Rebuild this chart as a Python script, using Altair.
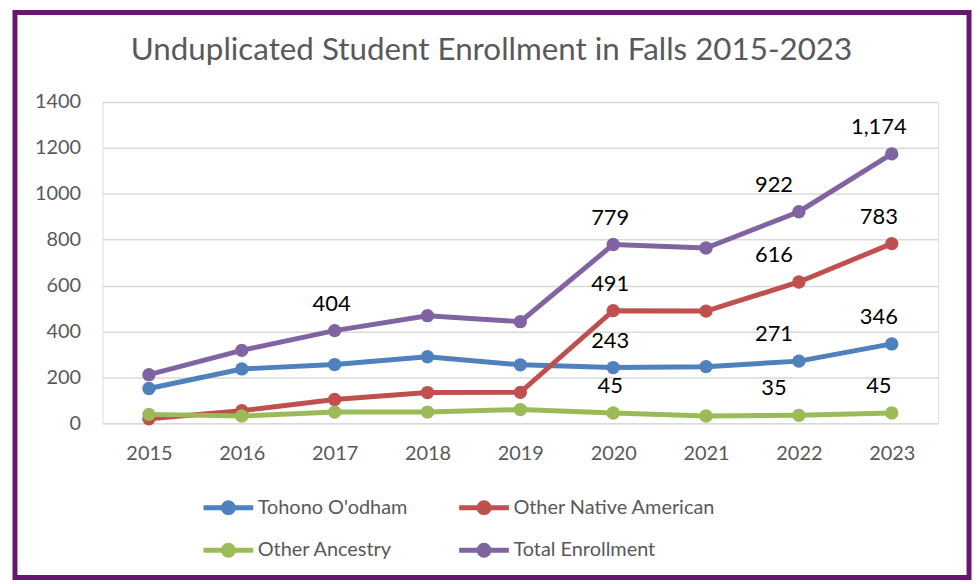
import altair as alt
import pandas as pd

title_text = "Unduplicated Student Enrollment in Falls 2015-2023"
years = ["2015", "2016", "2017", "2018", "2019", "2020", "2021", "2022", "2023"]
series_names = ["Tohono O'odham", "Other Native American", "Other Ancestry", "Total Enrollment"]
tohono = [152, 237, 256, 290, 255, 243, 247, 271, 346]
other_native = [20, 55, 104, 134, 135, 491, 489, 616, 783]
other_ancestry = [39, 32, 49, 49, 60, 45, 32, 35, 45]
total = [212, 318, 404, 469, 443, 779, 764, 922, 1174]
colors = ["#4f81bd", "#c0504d", "#9bbb59", "#8064a2"]
y_ticks = [0, 200, 400, 600, 800, 1000, 1200, 1400]
# which points carry a data label
labelled = {
    "Total Enrollment": ["2017", "2020", "2022", "2023"],
    "Other Native American": ["2020", "2022", "2023"],
    "Tohono O'odham": ["2020", "2022", "2023"],
    "Other Ancestry": ["2020", "2022", "2023"],
}

values = [tohono, other_native, other_ancestry, total]
rows = []
for name, vals in zip(series_names, values):
    for yr, v in zip(years, vals):
        rows.append({"Year": yr, "Series": name, "Value": v,
                     "lab": yr in labelled[name]})
df = pd.DataFrame(rows)

FONT = "Lato"
GRAY = "#595959"

x_enc = alt.X("Year:N", sort=years, scale=alt.Scale(type="point", padding=0.5),
              axis=alt.Axis(title=None, labelFontSize=20, labelColor=GRAY, labelFont=FONT,
                            labelAngle=0, ticks=False, domain=False, labelPadding=20, grid=False))
y_enc = alt.Y("Value:Q", scale=alt.Scale(domain=[0, 1400], nice=False),
              axis=alt.Axis(title=None, values=y_ticks, format="d", labelFontSize=20,
                            labelColor=GRAY, labelFont=FONT, ticks=False, domain=False,
                            labelPadding=22, gridColor="#d9d9d9", gridWidth=1.5))
color_enc = alt.Color("Series:N", sort=series_names,
                      scale=alt.Scale(domain=series_names, range=colors),
                      legend=alt.Legend(title=None, orient="none", legendX=99, legendY=380,
                                        direction="horizontal",
                                        columns=2, columnPadding=41, rowPadding=-7,
                                        labelFontSize=20, labelColor=GRAY, labelFont=FONT,
                                        labelOffset=2, labelLimit=400,
                                        symbolType="M-1,0H1M0.2,0A0.2,0.2,0,1,1,-0.2,0A0.2,0.2,0,1,1,0.2,0",
                                        symbolSize=2500, symbolStrokeWidth=5))

lines = alt.Chart(df).mark_line(strokeWidth=5,
                                point=alt.OverlayMarkDef(size=180, filled=True, opacity=1)).encode(
    x=x_enc, y=y_enc, color=color_enc,
    order=alt.Order("Year:N"),
)

label_base = alt.Chart(df).transform_filter("datum.lab")
text_layers = []
for yrs, dx in [(["2017", "2020"], -3), (["2022"], -25), (["2023"], -13)]:
    text_layers.append(
        label_base.transform_filter(alt.FieldOneOfPredicate(field="Year", oneOf=yrs))
        .mark_text(font=FONT, fontSize=22, color="black", dx=dx, dy=-27, baseline="middle")
        .encode(x=alt.X("Year:N", sort=years), y="Value:Q",
                text=alt.Text("Value:Q", format=","))
    )

title = alt.Chart(pd.DataFrame({"t": [title_text]})).mark_text(
    font=FONT, fontSize=31.5, color=GRAY, baseline="alphabetic", align="center").encode(
    x=alt.value(391), y=alt.value(-42), text="t:N")

border = alt.Chart(pd.DataFrame({"a": [0]})).mark_rect(
    fill=None, stroke="#66186f", strokeWidth=5).encode(
    x=alt.value(-88), x2=alt.value(871), y=alt.value(-90), y2=alt.value(478))

chart = alt.layer(lines, *text_layers, title, border).properties(
    width=840, height=323,
    autosize=alt.AutoSizeParams(type="none"),
    padding={"left": 95, "top": 93, "right": 34, "bottom": 160},
).configure_view(stroke=None).configure(background="white")

chart.save("out.html", embed_options={"renderer": "svg", "actions": False})
